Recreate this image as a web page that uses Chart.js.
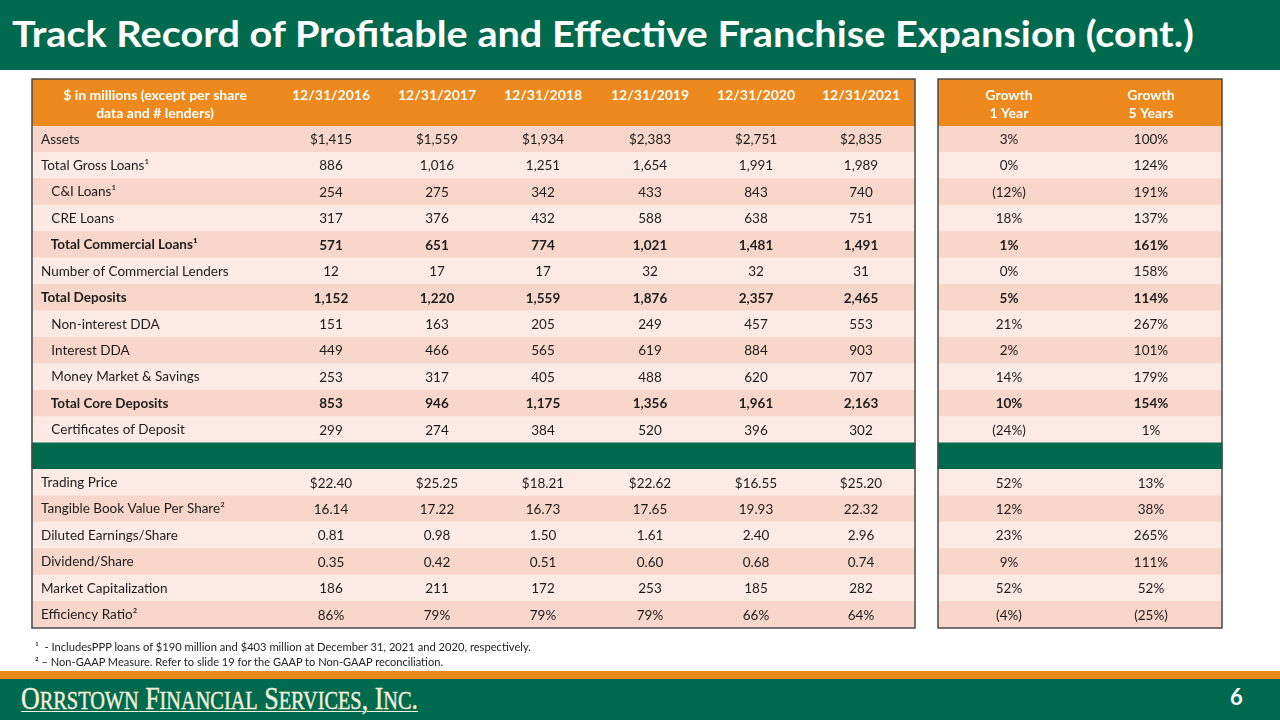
<!DOCTYPE html>
<html>
<head>
<meta charset="utf-8">
<script src="https://cdn.jsdelivr.net/npm/chart.js@4.4.1/dist/chart.umd.min.js"></script>
<style>
  html, body { margin:0; padding:0; background:#ffffff; width:1280px; height:720px; overflow:hidden; font-family:Lato, "Open Sans", sans-serif; }
  #chart { position:absolute; left:0; top:0; }
  #titlebar { position:absolute; left:0; top:0; width:1280px; height:70px; background:#006A4E; }
  #title { position:absolute; left:12px; top:15px; margin:0; color:#ffffff; font-family:Lato, sans-serif; font-weight:700; font-size:36px; line-height:1; white-space:nowrap; transform-origin:0 0; }
  .note { position:absolute; left:35px; margin:0; color:#222; font-family:Lato, sans-serif; font-size:10.5px; line-height:1; white-space:nowrap; transform-origin:0 0; }
  #stripe { position:absolute; left:0; top:671px; width:1280px; height:8px; background:#EE8A1D; }
  #footer { position:absolute; left:0; top:679px; width:1280px; height:41px; background:#006A4E; }
  #logo { position:absolute; left:21px; top:682px; margin:0; color:#F4F0DC; font-family:"Liberation Serif", "DejaVu Serif", serif; font-size:32px; line-height:1; white-space:nowrap; text-decoration:underline; text-decoration-thickness:1px; text-underline-offset:2px; transform-origin:0 0; -webkit-text-stroke:0.4px #F4F0DC; }
  #logo .sc { font-size:25px; }
  #page { position:absolute; left:1230px; top:686px; color:#ffffff; font-family:Lato, sans-serif; font-weight:700; font-size:22px; line-height:1; }
</style>
</head>
<body>
<canvas id="chart" width="1280" height="720"></canvas>
<div id="titlebar"></div>
<div id="title">Track Record of Profitable and Effective Franchise Expansion (cont.)</div>
<div class="note" id="note1" style="top:642px">¹&nbsp; - IncludesPPP loans of $190 million and $403 million at December 31, 2021 and 2020, respectively.</div>
<div class="note" id="note2" style="top:657px">² – Non-GAAP Measure. Refer to slide 19 for the GAAP to Non-GAAP reconciliation.</div>
<div id="stripe"></div>
<div id="footer"></div>
<div id="logo">O<span class="sc">RRSTOWN</span> F<span class="sc">INANCIAL</span> S<span class="sc">ERVICES</span>, I<span class="sc">NC</span>.</div>
<div id="page">6</div>
<script>
// ---------------- DATA ----------------
const stubHeader = ['$ in millions (except per share', 'data and # lenders)'];
const columnHeaders = ['12/31/2016', '12/31/2017', '12/31/2018', '12/31/2019', '12/31/2020', '12/31/2021'];
const growthHeaders = [['Growth', '1 Year'], ['Growth', '5 Years']];

const rowLabels = [
  'Assets', 'Total Gross Loans¹', 'C&I Loans¹', 'CRE Loans', 'Total Commercial Loans¹',
  'Number of Commercial Lenders', 'Total Deposits', 'Non-interest DDA', 'Interest DDA',
  'Money Market & Savings', 'Total Core Deposits', 'Certificates of Deposit', '',
  'Trading Price', 'Tangible Book Value Per Share²', 'Diluted Earnings/Share', 'Dividend/Share',
  'Market Capitalization', 'Efficiency Ratio²'
];
const rowFormats = ['$0','0','0','0','0','0','0','0','0','0','0','0','', '$2','2','2','2','0','%'];
const boldRows = [4, 6, 10];
const indentRows = [2, 3, 4, 7, 8, 9, 10, 11];
const separatorRow = 12;

const y2016 = [1415, 886, 254, 317, 571, 12, 1152, 151, 449, 253, 853, 299, null, 22.40, 16.14, 0.81, 0.35, 186, 86];
const y2017 = [1559, 1016, 275, 376, 651, 17, 1220, 163, 466, 317, 946, 274, null, 25.25, 17.22, 0.98, 0.42, 211, 79];
const y2018 = [1934, 1251, 342, 432, 774, 17, 1559, 205, 565, 405, 1175, 384, null, 18.21, 16.73, 1.50, 0.51, 172, 79];
const y2019 = [2383, 1654, 433, 588, 1021, 32, 1876, 249, 619, 488, 1356, 520, null, 22.62, 17.65, 1.61, 0.60, 253, 79];
const y2020 = [2751, 1991, 843, 638, 1481, 32, 2357, 457, 884, 620, 1961, 396, null, 16.55, 19.93, 2.40, 0.68, 185, 66];
const y2021 = [2835, 1989, 740, 751, 1491, 31, 2465, 553, 903, 707, 2163, 302, null, 25.20, 22.32, 2.96, 0.74, 282, 64];
const growth1Year = [3, 0, -12, 18, 1, 0, 5, 21, 2, 14, 10, -24, null, 52, 12, 23, 9, 52, -4];
const growth5Years = [100, 124, 191, 137, 161, 158, 114, 267, 101, 179, 154, 1, null, 13, 38, 265, 111, 52, -25];

// ---------------- LAYOUT / STYLE ----------------
const yearSeries = [y2016, y2017, y2018, y2019, y2020, y2021];
const growthSeries = [growth1Year, growth5Years];
const LAYOUT = {
  bodyTop: 126, bodyBottom: 628, headerHeight: 47,
  leftTable: [32, 915], rightTable: [938, 1222],
  stubCenter: 155, yearCenters: [331, 437, 543, 650, 756, 861], growthCenters: [1009, 1151],
  labelX: 41, indent: '   '
};
const COLORS = { green:'#006A4E', orange:'#EE8A1D', dark:'#F8D6CA', light:'#FCEBE5', text:'#1c1c1c', border:'#4a4a4a' };
const FONT = 'Lato';
const BODY_SIZE = 13.5;

function fmtValue(v, f) {
  if (v === null || v === undefined) return '';
  if (f === '$0') return '$' + v.toLocaleString('en-US');
  if (f === '0') return v.toLocaleString('en-US');
  if (f === '$2') return '$' + v.toFixed(2);
  if (f === '2') return v.toFixed(2);
  if (f === '%') return v + '%';
  return String(v);
}
function fmtGrowth(v) {
  if (v === null || v === undefined) return '';
  return v < 0 ? '(' + (-v) + '%)' : v + '%';
}
function rowColor(i) {
  if (i === separatorRow) return COLORS.green;
  return i % 2 === 0 ? COLORS.dark : COLORS.light;
}

const tablePlugin = {
  id: 'tableText',
  afterDraw(chart) {
    const { ctx, chartArea, scales: { x, y } } = chart;
    const top = chartArea.top - LAYOUT.headerHeight;
    ctx.save();
    // header bands
    ctx.fillStyle = COLORS.orange;
    [LAYOUT.leftTable, LAYOUT.rightTable].forEach(([a, b]) => {
      const xa = x.getPixelForValue(a), xb = x.getPixelForValue(b);
      ctx.fillRect(xa, top, xb - xa, chartArea.top - top);
    });
    // header text
    ctx.fillStyle = '#ffffff';
    ctx.textAlign = 'center';
    ctx.textBaseline = 'middle';
    ctx.font = `bold 14px ${FONT}`;
    const l1 = top + 16, l2 = top + 34;
    ctx.fillText(stubHeader[0], x.getPixelForValue(LAYOUT.stubCenter), l1);
    ctx.fillText(stubHeader[1], x.getPixelForValue(LAYOUT.stubCenter), l2);
    columnHeaders.forEach((h, j) => ctx.fillText(h, x.getPixelForValue(LAYOUT.yearCenters[j]), l1));
    growthHeaders.forEach((h, j) => {
      ctx.fillText(h[0], x.getPixelForValue(LAYOUT.growthCenters[j]), l1);
      ctx.fillText(h[1], x.getPixelForValue(LAYOUT.growthCenters[j]), l2);
    });
    // body values
    ctx.fillStyle = COLORS.text;
    rowLabels.forEach((lab, i) => {
      if (i === separatorRow) return;
      const py = y.getPixelForValue(i) + 0.5;
      ctx.font = `${boldRows.includes(i) ? 'bold ' : ''}${BODY_SIZE}px ${FONT}`;
      yearSeries.forEach((s, j) => ctx.fillText(fmtValue(s[i], rowFormats[i]), x.getPixelForValue(LAYOUT.yearCenters[j]), py));
      growthSeries.forEach((s, j) => ctx.fillText(fmtGrowth(s[i]), x.getPixelForValue(LAYOUT.growthCenters[j]), py));
    });
    // borders
    ctx.strokeStyle = COLORS.border;
    ctx.lineWidth = 1.5;
    [LAYOUT.leftTable, LAYOUT.rightTable].forEach(([a, b]) => {
      const xa = x.getPixelForValue(a), xb = x.getPixelForValue(b);
      ctx.strokeRect(xa, top, xb - xa, chartArea.bottom - top);
    });
    ctx.restore();
  }
};

function build() {
  new Chart(document.getElementById('chart'), {
    type: 'bar',
    data: {
      labels: rowLabels,
      datasets: [
        { label: 'left', data: rowLabels.map(() => LAYOUT.leftTable), backgroundColor: (c) => rowColor(c.dataIndex), borderWidth: 0, grouped: false, barPercentage: 1, categoryPercentage: 1, inflateAmount: 0.5 },
        { label: 'right', data: rowLabels.map(() => LAYOUT.rightTable), backgroundColor: (c) => rowColor(c.dataIndex), borderWidth: 0, grouped: false, barPercentage: 1, categoryPercentage: 1, inflateAmount: 0.5 }
      ]
    },
    options: {
      indexAxis: 'y',
      responsive: false,
      animation: false,
      events: [],
      layout: { padding: { top: LAYOUT.bodyTop, bottom: 720 - LAYOUT.bodyBottom, left: 0, right: 0 } },
      plugins: { legend: { display: false }, tooltip: { enabled: false }, title: { display: false } },
      scales: {
        x: { type: 'linear', min: 0, max: 1280, display: false },
        y: {
          type: 'category', offset: true,
          grid: { display: false, drawTicks: false }, border: { display: false },
          afterFit: (s) => { s.width = 0; },
          ticks: {
            z: 1, mirror: true, crossAlign: 'near', padding: LAYOUT.labelX, autoSkip: false, color: COLORS.text,
            font: (c) => ({ family: FONT, size: BODY_SIZE, weight: boldRows.includes(c.index) ? 'bold' : 'normal' }),
            callback: (v, i) => (indentRows.includes(i) ? LAYOUT.indent : '') + rowLabels[i]
          }
        }
      }
    },
    plugins: [tablePlugin]
  });
}

function fit(id, w) {
  const el = document.getElementById(id);
  const r = el.getBoundingClientRect();
  el.style.transform = `scaleX(${w / r.width})`;
}

Promise.all([
  document.fonts.load(`13px ${FONT}`),
  document.fonts.load(`bold 13px ${FONT}`),
  document.fonts.load(`30px "Liberation Serif"`)
]).catch(() => {}).then(() => {
  fit('title', 1182);
  fit('note1', 496);
  fit('note2', 408);
  fit('logo', 397);
  build();
});
</script>
</body>
</html>
